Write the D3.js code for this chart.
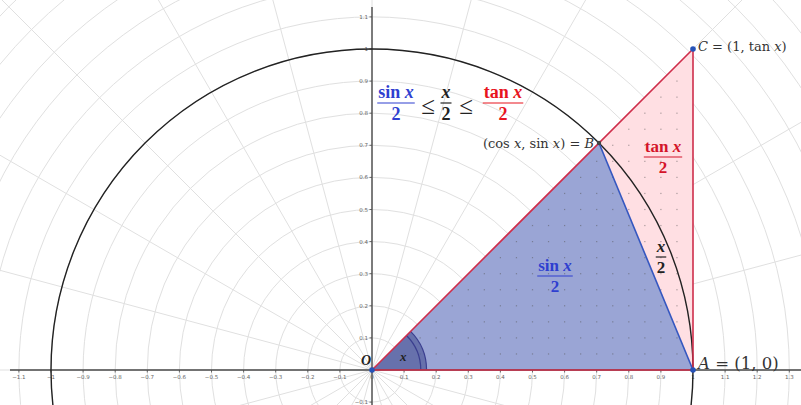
<!DOCTYPE html>
<html lang="en">
<head>
<meta charset="UTF-8">
<title>sin x / 2 <= x / 2 <= tan x / 2</title>
<script src="https://d3js.org/d3.v7.min.js"></script>
<style>
  body { margin: 0; background: #fff; }
  text { font-family: "Liberation Serif", "DejaVu Serif", serif; }
  .tick { font-family: "DejaVu Sans", sans-serif; font-size: 5.5px; fill: #666; }
  .pl { font-family: "DejaVu Serif", serif; }
</style>
</head>
<body>
<svg id="chart" width="801" height="405"></svg>
<script>
// data
var angle = Math.PI / 4;                       // the angle x
var xTicks = [-1.1, -1, -0.9, -0.8, -0.7, -0.6, -0.5, -0.4, -0.3, -0.2, -0.1, 0,
              0.1, 0.2, 0.3, 0.4, 0.5, 0.6, 0.7, 0.8, 0.9, 1, 1.1, 1.2, 1.3];
var yTicks = [-0.1, 0.1, 0.2, 0.3, 0.4, 0.5, 0.6, 0.7, 0.8, 0.9, 1, 1.1];
var gridRadii = d3.range(1, 19).map(function (i) { return i / 10; });
var gridAngles = d3.range(0, 24).map(function (i) { return i * Math.PI / 12; });
var dotStep = 0.05;

var width = 801, height = 405;
var svg = d3.select('#chart');

var x = d3.scaleLinear().domain([0, 1]).range([372, 693]);
var y = d3.scaleLinear().domain([0, 1]).range([370, 49]);
var unit = x(1) - x(0);

var O = [0, 0], A = [1, 0];
var B = [Math.cos(angle), Math.sin(angle)];
var C = [1, Math.tan(angle)];

function pt(p) { return [x(p[0]), y(p[1])]; }
var line = d3.line().x(function (d) { return x(d[0]); }).y(function (d) { return y(d[1]); });

// polar grid
var grid = svg.append('g').attr('stroke', '#e0e0e0').attr('fill', 'none').attr('stroke-width', 1);
grid.selectAll('circle').data(gridRadii).enter().append('circle')
    .attr('cx', x(0)).attr('cy', y(0))
    .attr('r', function (d) { return d * unit; });
grid.selectAll('line').data(gridAngles).enter().append('line')
    .attr('x1', x(0)).attr('y1', y(0))
    .attr('x2', function (d) { return x(2 * Math.cos(d)); })
    .attr('y2', function (d) { return y(2 * Math.sin(d)); });

// triangles
svg.append('path').attr('d', line([O, A, C]) + 'Z').attr('fill', '#ffdfe3');
svg.append('path').attr('d', line([O, A, B]) + 'Z').attr('fill', '#9aa5d5');

// dots inside the triangles
var dots = [];
for (var i = 1; i < 20; i++) {
    for (var j = 1; j < 20; j++) {
        var px = i * dotStep, py = j * dotStep;
        if (py < px * Math.tan(angle) - 0.01) dots.push([px, py]);
    }
}
svg.append('g').selectAll('rect').data(dots).enter().append('rect')
    .attr('x', function (d) { return x(d[0]) - 0.6; })
    .attr('y', function (d) { return y(d[1]) - 0.6; })
    .attr('width', 1.2).attr('height', 1.2)
    .attr('fill', '#555').attr('opacity', 0.5);

// angle sector at O
var arc = d3.arc().startAngle(Math.PI / 2 - angle).endAngle(Math.PI / 2);
var sector = svg.append('g').attr('transform', 'translate(' + x(0) + ',' + y(0) + ')');
sector.append('path').attr('d', arc({innerRadius: 0, outerRadius: 0.17 * unit}))
    .attr('fill', '#56609e').attr('opacity', 0.75);
[0.152, 0.17].forEach(function (r) {
    sector.append('path').attr('d', arc({innerRadius: r * unit, outerRadius: r * unit}))
        .attr('fill', 'none').attr('stroke', '#3b3f8f').attr('stroke-width', 1.2);
});

// axes
var axes = svg.append('g').attr('stroke', '#4a4a4a').attr('stroke-width', 1.4);
axes.append('line').attr('x1', 10).attr('x2', width).attr('y1', y(0)).attr('y2', y(0));
axes.append('line').attr('x1', x(0)).attr('x2', x(0)).attr('y1', 7).attr('y2', height);
axes.selectAll('.xt').data(xTicks).enter().append('line')
    .attr('x1', function (d) { return x(d); }).attr('x2', function (d) { return x(d); })
    .attr('y1', y(0)).attr('y2', y(0) + 2.5).attr('stroke-width', 0.8);
axes.selectAll('.yt').data(yTicks).enter().append('line')
    .attr('y1', function (d) { return y(d); }).attr('y2', function (d) { return y(d); })
    .attr('x1', x(0) - 2.5).attr('x2', x(0)).attr('stroke-width', 0.8);

svg.append('g').selectAll('text').data(xTicks).enter().append('text')
    .attr('class', 'tick')
    .attr('x', function (d) { return x(d); }).attr('y', y(0) + 9)
    .attr('text-anchor', 'middle')
    .text(function (d) { return d3.format('')(d).replace('-', '\u2212'); });
svg.append('g').selectAll('text').data(yTicks).enter().append('text')
    .attr('class', 'tick')
    .attr('x', x(0) - 4).attr('y', function (d) { return y(d) + 2; })
    .attr('text-anchor', 'end')
    .text(function (d) { return d3.format('')(d).replace('-', '\u2212'); });

// unit circle
svg.append('circle').attr('cx', x(0)).attr('cy', y(0)).attr('r', unit)
    .attr('fill', 'none').attr('stroke', '#222').attr('stroke-width', 1.4);

// edges
svg.append('path').attr('d', line([A, B])).attr('stroke', '#3557c0').attr('stroke-width', 1.6).attr('fill', 'none');
svg.append('path').attr('d', line([O, A, C]) + 'Z').attr('stroke', '#cf2e4b').attr('stroke-width', 1.6)
    .attr('fill', 'none').attr('stroke-linejoin', 'round');

// points
[[O, '#2653b8', 2.8], [A, '#2653b8', 2.8], [C, '#2653b8', 2.8], [B, '#444', 2.2]].forEach(function (p) {
    var q = pt(p[0]);
    svg.append('circle').attr('cx', q[0]).attr('cy', q[1]).attr('r', p[2]).attr('fill', p[1]);
});

// labels
function fn(g, name) {
    var t = g.append('tspan');
    if (name) { t.text(name + ' '); t.attr('font-weight', 'bold'); }
    g.append('tspan').attr('font-style', 'italic').attr('font-weight', 'bold').text('x');
}
function frac(cx, cy, name, color, size) {
    var g = svg.append('g').attr('fill', color);
    var num = g.append('text').attr('x', cx).attr('y', cy - size * 0.28)
        .attr('text-anchor', 'middle').attr('font-size', size);
    fn(num, name);
    var w = num.node().getComputedTextLength();
    g.append('line').attr('x1', cx - w / 2 - 1).attr('x2', cx + w / 2 + 1)
        .attr('y1', cy).attr('y2', cy).attr('stroke', color).attr('stroke-width', 1.2);
    g.append('text').attr('x', cx).attr('y', cy + size * 0.92)
        .attr('text-anchor', 'middle').attr('font-size', size).attr('font-weight', 'bold').text('2');
}

frac(396, 103, 'sin', '#2f3fd0', 18);
svg.append('text').attr('x', 428).attr('y', 114).attr('text-anchor', 'middle')
    .attr('font-size', 25).attr('fill', '#222').text('\u2264');
frac(446, 103, '', '#222', 18);
svg.append('text').attr('x', 466).attr('y', 114).attr('text-anchor', 'middle')
    .attr('font-size', 25).attr('fill', '#222').text('\u2264');
frac(503, 103, 'tan', '#e8141e', 18);

frac(663, 157, 'tan', '#d4142a', 17);
frac(555, 276, 'sin', '#2f3fd0', 17);
frac(661, 257, '', '#222', 17);

var lb = svg.append('text').attr('class', 'pl').attr('x', 594).attr('y', 148).attr('text-anchor', 'end')
    .attr('font-size', 13).attr('fill', '#333');
lb.append('tspan').text('(cos ');
lb.append('tspan').attr('font-style', 'italic').text('x');
lb.append('tspan').text(', sin ');
lb.append('tspan').attr('font-style', 'italic').text('x');
lb.append('tspan').text(') = ');
lb.append('tspan').attr('font-style', 'italic').text('B');

var lc = svg.append('text').attr('class', 'pl').attr('x', 698).attr('y', 51).attr('font-size', 13).attr('fill', '#333');
lc.append('tspan').attr('font-style', 'italic').text('C');
lc.append('tspan').text(' = (1, tan ');
lc.append('tspan').attr('font-style', 'italic').text('x');
lc.append('tspan').text(')');

var la = svg.append('text').attr('class', 'pl').attr('x', 698).attr('y', 369).attr('font-size', 16.5).attr('fill', '#333');
la.append('tspan').attr('font-style', 'italic').text('A');
la.append('tspan').text(' = (1, 0)');

svg.append('text').attr('x', 361).attr('y', 365).attr('font-size', 14).attr('font-style', 'italic')
    .attr('font-weight', 'bold').attr('fill', '#222').text('O');
svg.append('text').attr('x', 400).attr('y', 361).attr('font-size', 13).attr('font-style', 'italic')
    .attr('font-weight', 'bold').attr('fill', '#222').text('x');
</script>
</body>
</html>
